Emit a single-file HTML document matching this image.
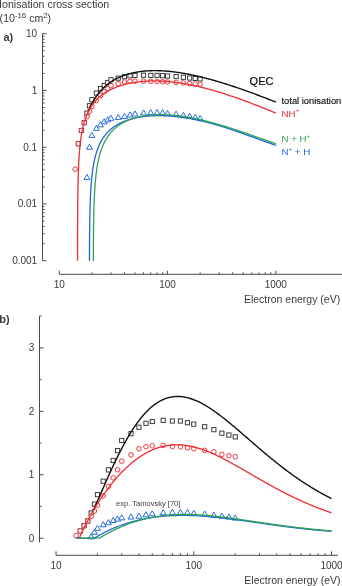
<!DOCTYPE html><html><head><meta charset="utf-8"><style>html,body{margin:0;padding:0;background:#fff;overflow:hidden}svg{display:block;will-change:transform}text{font-family:"Liberation Sans",sans-serif}</style></head><body>
<svg width="342" height="586" viewBox="0 0 342 586">
<rect width="342" height="586" fill="#fff"/>
<text x="-0.9" y="7.6" font-size="10.6" fill="#3a3a3a">Ionisation cross section</text>
<text x="-0.4" y="22.3" font-size="10.6" fill="#3a3a3a">(10<tspan dy="-3.9" font-size="7.8">-16</tspan><tspan dy="3.9"> cm</tspan><tspan dy="-3.9" font-size="7.8">2</tspan><tspan dy="3.9">)</tspan></text>
<text x="3.4" y="40.5" font-size="11" font-weight="bold" fill="#3a3a3a">a)</text>
<text x="-0.8" y="322.6" font-size="11" font-weight="bold" fill="#3a3a3a">b)</text>
<path d="M42.5 33.7V260.6M42.5 260.7h4M42.5 243.62h2M42.5 233.62h2M42.5 226.53h2M42.5 221.03h2M42.5 216.54h2M42.5 212.74h2M42.5 209.45h2M42.5 206.55h2M42.5 203.95h4M42.5 186.87h2M42.5 176.87h2M42.5 169.78h2M42.5 164.28h2M42.5 159.79h2M42.5 155.99h2M42.5 152.7h2M42.5 149.8h2M42.5 147.2h4M42.5 130.12h2M42.5 120.12h2M42.5 113.03h2M42.5 107.53h2M42.5 103.04h2M42.5 99.24h2M42.5 95.95h2M42.5 93.05h2M42.5 90.45h4M42.5 73.37h2M42.5 63.37h2M42.5 56.28h2M42.5 50.78h2M42.5 46.29h2M42.5 42.49h2M42.5 39.2h2M42.5 36.3h2M42.5 33.7h4M59.3 274.3H342M59.3 274.3v-3.5M91.89 274.3v-2M110.95 274.3v-2M124.47 274.3v-2M134.96 274.3v-2M143.53 274.3v-2M150.78 274.3v-2M157.06 274.3v-2M162.6 274.3v-2M167.55 274.3v-3.5M200.14 274.3v-2M219.2 274.3v-2M232.72 274.3v-2M243.21 274.3v-2M251.78 274.3v-2M259.03 274.3v-2M265.31 274.3v-2M270.85 274.3v-2M275.8 274.3v-3.5" fill="none" stroke="#4a4a4a" stroke-width="1"/>
<text x="37.2" y="37.2" font-size="10" text-anchor="end" fill="#3a3a3a">10</text>
<text x="37.2" y="93.95" font-size="10" text-anchor="end" fill="#3a3a3a">1</text>
<text x="37.2" y="150.7" font-size="10" text-anchor="end" fill="#3a3a3a">0.1</text>
<text x="37.2" y="207.45" font-size="10" text-anchor="end" fill="#3a3a3a">0.01</text>
<text x="37.2" y="264.2" font-size="10" text-anchor="end" fill="#3a3a3a">0.001</text>
<text x="59.3" y="287.9" font-size="10" text-anchor="middle" fill="#3a3a3a">10</text>
<text x="167.55" y="287.9" font-size="10" text-anchor="middle" fill="#3a3a3a">100</text>
<text x="275.8" y="287.9" font-size="10" text-anchor="middle" fill="#3a3a3a">1000</text>
<text x="340.2" y="302.9" font-size="10.5" text-anchor="end" fill="#3a3a3a">Electron energy (eV)</text>
<g fill="#fff" stroke="#2a2a2a" stroke-width="0.9"><rect x="76.26" y="141.66" width="4.2" height="4.2"/><rect x="79.3" y="128.39" width="4.2" height="4.2"/><rect x="82.15" y="120.53" width="4.2" height="4.2"/><rect x="84.83" y="111.12" width="4.2" height="4.2"/><rect x="87.38" y="103.67" width="4.2" height="4.2"/><rect x="89.79" y="97.64" width="4.2" height="4.2"/><rect x="94.27" y="90.97" width="4.2" height="4.2"/><rect x="98.36" y="86.52" width="4.2" height="4.2"/><rect x="102.12" y="83.35" width="4.2" height="4.2"/><rect x="105.6" y="80.41" width="4.2" height="4.2"/><rect x="108.85" y="77.71" width="4.2" height="4.2"/><rect x="116.1" y="76.05" width="4.2" height="4.2"/><rect x="122.37" y="74.57" width="4.2" height="4.2"/><rect x="127.91" y="73.71" width="4.2" height="4.2"/><rect x="132.86" y="73.33" width="4.2" height="4.2"/><rect x="141.43" y="73.08" width="4.2" height="4.2"/><rect x="148.68" y="73.23" width="4.2" height="4.2"/><rect x="154.96" y="73.23" width="4.2" height="4.2"/><rect x="160.5" y="73.59" width="4.2" height="4.2"/><rect x="165.45" y="73.89" width="4.2" height="4.2"/><rect x="174.02" y="74.46" width="4.2" height="4.2"/><rect x="181.27" y="75.13" width="4.2" height="4.2"/><rect x="187.55" y="75.93" width="4.2" height="4.2"/><rect x="193.08" y="76.37" width="4.2" height="4.2"/><rect x="198.04" y="76.81" width="4.2" height="4.2"/></g>
<g fill="#fff" stroke="#ec2d33" stroke-width="0.95"><circle cx="75.12" cy="169.17" r="2.3"/><circle cx="78.36" cy="143.76" r="2.3"/><circle cx="81.4" cy="130.49" r="2.3"/><circle cx="84.25" cy="122.63" r="2.3"/><circle cx="86.93" cy="116.68" r="2.3"/><circle cx="89.48" cy="111.31" r="2.3"/><circle cx="91.89" cy="106.57" r="2.3"/><circle cx="96.37" cy="100.43" r="2.3"/><circle cx="100.46" cy="95.49" r="2.3"/><circle cx="104.22" cy="91.66" r="2.3"/><circle cx="107.7" cy="88.6" r="2.3"/><circle cx="110.95" cy="85.65" r="2.3"/><circle cx="118.2" cy="83.74" r="2.3"/><circle cx="124.47" cy="82" r="2.3"/><circle cx="130.01" cy="81.43" r="2.3"/><circle cx="134.96" cy="81.19" r="2.3"/><circle cx="143.53" cy="81.11" r="2.3"/><circle cx="150.78" cy="81.38" r="2.3"/><circle cx="157.06" cy="81.46" r="2.3"/><circle cx="162.6" cy="81.7" r="2.3"/><circle cx="167.55" cy="81.96" r="2.3"/><circle cx="176.12" cy="82.42" r="2.3"/><circle cx="183.37" cy="82.84" r="2.3"/><circle cx="189.65" cy="83.61" r="2.3"/><circle cx="195.18" cy="83.98" r="2.3"/><circle cx="200.14" cy="84.31" r="2.3"/></g>
<g fill="#fff" stroke="#1f66dc" stroke-width="0.95"><path d="M86.93 174.32L89.93 179.42L83.93 179.42z"/><path d="M89.48 144.16L92.48 149.26L86.48 149.26z"/><path d="M91.89 132.31L94.89 137.41L88.89 137.41z"/><path d="M96.37 125.22L99.37 130.32L93.37 130.32z"/><path d="M100.46 121.77L103.46 126.87L97.46 126.87z"/><path d="M104.22 118.67L107.22 123.77L101.22 123.77z"/><path d="M107.7 116.77L110.7 121.87L104.7 121.87z"/><path d="M110.95 115.22L113.95 120.32L107.95 120.32z"/><path d="M118.2 114.34L121.2 119.44L115.2 119.44z"/><path d="M124.47 113.36L127.47 118.46L121.47 118.46z"/><path d="M130.01 111.88L133.01 116.98L127.01 116.98z"/><path d="M134.96 110.92L137.96 116.02L131.96 116.02z"/><path d="M143.53 109.87L146.53 114.97L140.53 114.97z"/><path d="M150.78 109.58L153.78 114.68L147.78 114.68z"/><path d="M157.06 109.58L160.06 114.68L154.06 114.68z"/><path d="M162.6 109.75L165.6 114.85L159.6 114.85z"/><path d="M167.55 110.48L170.55 115.58L164.55 115.58z"/><path d="M176.12 111.11L179.12 116.21L173.12 116.21z"/><path d="M183.37 112.4L186.37 117.5L180.37 117.5z"/><path d="M189.65 113.36L192.65 118.46L186.65 118.46z"/><path d="M195.18 114.34L198.18 119.44L192.18 119.44z"/><path d="M200.14 115.52L203.14 120.62L197.14 120.62z"/></g>
<g fill="none" stroke-width="1.3" stroke-linejoin="round">
<path d="M88.33 111.61 L88.61 110.89 L88.89 110.2 L89.17 109.51 L89.45 108.85 L89.78 108.1 L90.11 107.36 L90.44 106.65 L90.77 105.95 L91.1 105.27 L91.42 104.61 L91.75 103.96 L92.08 103.33 L92.46 102.62 L92.83 101.94 L93.21 101.27 L93.58 100.62 L93.96 99.99 L94.33 99.37 L94.71 98.77 L95.13 98.11 L95.55 97.46 L95.97 96.84 L96.39 96.23 L96.81 95.63 L97.24 95.05 L97.71 94.42 L98.17 93.81 L98.64 93.22 L99.11 92.64 L99.58 92.08 L100.05 91.53 L100.52 91 L101.03 90.42 L101.55 89.87 L102.07 89.32 L102.58 88.8 L103.1 88.28 L103.61 87.78 L104.13 87.3 L104.69 86.78 L105.25 86.28 L105.82 85.79 L106.38 85.32 L106.94 84.86 L107.5 84.41 L108.07 83.97 L108.68 83.51 L109.28 83.06 L109.89 82.63 L110.5 82.21 L111.11 81.8 L111.72 81.4 L112.33 81.02 L112.94 80.64 L113.55 80.28 L114.21 79.9 L114.86 79.53 L115.52 79.17 L116.18 78.82 L116.83 78.48 L117.49 78.16 L118.15 77.84 L118.8 77.53 L119.46 77.23 L120.11 76.95 L120.77 76.67 L121.43 76.4 L122.13 76.11 L122.83 75.84 L123.54 75.58 L124.24 75.33 L124.94 75.08 L125.65 74.85 L126.35 74.62 L127.05 74.4 L127.76 74.19 L128.46 73.98 L129.16 73.79 L129.86 73.6 L130.57 73.42 L131.27 73.24 L131.97 73.07 L132.68 72.91 L133.38 72.76 L134.08 72.61 L134.79 72.47 L135.49 72.33 L136.19 72.2 L136.9 72.08 L137.6 71.96 L138.3 71.85 L139.01 71.74 L139.71 71.64 L140.41 71.54 L141.12 71.45 L141.82 71.37 L142.52 71.29 L143.23 71.21 L143.98 71.14 L144.73 71.07 L145.48 71.01 L146.23 70.95 L146.98 70.9 L147.73 70.85 L148.48 70.81 L149.23 70.77 L149.98 70.74 L150.73 70.71 L151.48 70.68 L152.23 70.67 L152.98 70.65 L153.73 70.64 L154.48 70.64 L155.23 70.64 L155.98 70.64 L156.73 70.65 L157.48 70.66 L158.23 70.68 L158.98 70.7 L159.73 70.73 L160.48 70.75 L161.23 70.79 L161.98 70.82 L162.73 70.86 L163.48 70.91 L164.23 70.96 L164.98 71.01 L165.73 71.06 L166.48 71.12 L167.23 71.18 L167.98 71.25 L168.73 71.32 L169.48 71.39 L170.23 71.47 L170.98 71.54 L171.68 71.62 L172.38 71.7 L173.09 71.78 L173.79 71.87 L174.49 71.96 L175.2 72.05 L175.9 72.14 L176.6 72.24 L177.31 72.34 L178.01 72.44 L178.71 72.54 L179.42 72.65 L180.12 72.75 L180.82 72.87 L181.53 72.98 L182.23 73.1 L182.93 73.21 L183.64 73.33 L184.34 73.46 L185.04 73.58 L185.74 73.71 L186.45 73.84 L187.15 73.97 L187.85 74.1 L188.56 74.24 L189.26 74.38 L189.96 74.52 L190.67 74.66 L191.37 74.81 L192.07 74.95 L192.78 75.1 L193.48 75.25 L194.18 75.41 L194.89 75.56 L195.59 75.72 L196.29 75.87 L197 76.03 L197.7 76.2 L198.4 76.36 L199.11 76.53 L199.81 76.69 L200.51 76.86 L201.22 77.03 L201.92 77.21 L202.62 77.38 L203.32 77.56 L204.03 77.74 L204.73 77.91 L205.43 78.1 L206.14 78.28 L206.84 78.46 L207.54 78.65 L208.25 78.84 L208.95 79.03 L209.65 79.22 L210.36 79.41 L211.06 79.6 L211.76 79.8 L212.47 79.99 L213.17 80.19 L213.87 80.39 L214.58 80.59 L215.28 80.79 L215.98 81 L216.69 81.2 L217.39 81.41 L218.09 81.62 L218.79 81.83 L219.5 82.04 L220.2 82.25 L220.9 82.46 L221.61 82.68 L222.31 82.89 L223.01 83.11 L223.72 83.33 L224.42 83.55 L225.12 83.77 L225.83 83.99 L226.53 84.21 L227.23 84.43 L227.94 84.66 L228.64 84.88 L229.34 85.11 L230.05 85.34 L230.75 85.57 L231.45 85.8 L232.16 86.03 L232.86 86.26 L233.56 86.5 L234.26 86.73 L234.97 86.97 L235.67 87.21 L236.37 87.44 L237.08 87.68 L237.78 87.92 L238.48 88.16 L239.19 88.4 L239.89 88.65 L240.59 88.89 L241.3 89.13 L242 89.38 L242.7 89.63 L243.41 89.87 L244.11 90.12 L244.81 90.37 L245.52 90.62 L246.22 90.87 L246.92 91.12 L247.63 91.37 L248.33 91.63 L249.03 91.88 L249.74 92.14 L250.44 92.39 L251.14 92.65 L251.84 92.9 L252.55 93.16 L253.25 93.42 L253.95 93.68 L254.66 93.94 L255.36 94.2 L256.06 94.46 L256.77 94.72 L257.47 94.99 L258.17 95.25 L258.88 95.52 L259.58 95.78 L260.28 96.05 L260.99 96.31 L261.69 96.58 L262.39 96.85 L263.1 97.12 L263.8 97.38 L264.5 97.65 L265.21 97.92 L265.91 98.19 L266.61 98.47 L267.31 98.74 L268.02 99.01 L268.72 99.28 L269.42 99.56 L270.13 99.83 L270.83 100.11 L271.53 100.38 L272.24 100.66 L272.94 100.94 L273.64 101.21 L274.35 101.49 L275.05 101.77 L275.75 102.05 L275.8 102.07" stroke="#111" stroke-width="1.4"/>
<path d="M77.54 260.7 L77.57 241.11 L77.62 224.16 L77.67 214.22 L77.72 207.16 L77.77 201.69 L77.81 197.22 L77.86 193.44 L77.91 190.16 L77.96 187.28 L78.01 184.7 L78.06 182.37 L78.11 180.24 L78.16 178.28 L78.21 176.47 L78.26 174.79 L78.31 173.21 L78.36 171.73 L78.41 170.34 L78.46 169.02 L78.51 167.77 L78.56 166.58 L78.61 165.45 L78.66 164.37 L78.71 163.33 L78.76 162.34 L78.81 161.39 L78.86 160.48 L78.91 159.59 L78.96 158.74 L79 157.92 L79.05 157.13 L79.1 156.36 L79.15 155.62 L79.2 154.89 L79.3 153.51 L79.4 152.21 L79.5 150.97 L79.6 149.8 L79.7 148.68 L79.8 147.62 L79.9 146.59 L80 145.62 L80.1 144.68 L80.19 143.78 L80.29 142.91 L80.39 142.07 L80.49 141.26 L80.59 140.48 L80.69 139.73 L80.79 139 L80.89 138.29 L81.04 137.27 L81.19 136.29 L81.34 135.35 L81.48 134.45 L81.63 133.59 L81.78 132.75 L81.93 131.95 L82.08 131.17 L82.23 130.43 L82.38 129.7 L82.53 129 L82.72 128.1 L82.92 127.23 L83.12 126.4 L83.32 125.59 L83.52 124.82 L83.72 124.07 L83.91 123.35 L84.11 122.65 L84.36 121.81 L84.61 121 L84.86 120.22 L85.1 119.47 L85.35 118.75 L85.6 118.05 L85.85 117.37 L86.14 116.58 L86.44 115.83 L86.74 115.1 L87.04 114.4 L87.33 113.72 L87.63 113.06 L87.98 112.33 L88.33 111.61 L88.67 110.93 L89.02 110.26 L89.37 109.62 L89.71 109 L90.11 108.32 L90.51 107.66 L90.9 107.02 L91.3 106.41 L91.7 105.81 L92.14 105.16 L92.59 104.54 L93.04 103.94 L93.48 103.35 L93.93 102.79 L94.43 102.18 L94.92 101.6 L95.42 101.03 L95.91 100.49 L96.41 99.96 L96.9 99.44 L97.45 98.9 L97.99 98.37 L98.54 97.86 L99.09 97.37 L99.63 96.89 L100.18 96.42 L100.77 95.93 L101.37 95.46 L101.96 95 L102.56 94.56 L103.15 94.13 L103.75 93.71 L104.34 93.3 L104.94 92.91 L105.58 92.5 L106.23 92.1 L106.87 91.71 L107.51 91.33 L108.16 90.97 L108.8 90.61 L109.45 90.27 L110.09 89.94 L110.74 89.61 L111.38 89.3 L112.03 88.99 L112.67 88.69 L113.37 88.38 L114.06 88.08 L114.75 87.79 L115.45 87.51 L116.14 87.23 L116.84 86.97 L117.53 86.71 L118.22 86.46 L118.92 86.22 L119.61 85.98 L120.31 85.75 L121 85.53 L121.7 85.32 L122.39 85.11 L123.08 84.91 L123.78 84.71 L124.47 84.52 L125.17 84.34 L125.86 84.16 L126.55 83.99 L127.25 83.82 L127.94 83.66 L128.64 83.51 L129.33 83.36 L130.03 83.21 L130.72 83.07 L131.46 82.93 L132.21 82.79 L132.95 82.66 L133.69 82.53 L134.44 82.41 L135.18 82.3 L135.93 82.19 L136.67 82.08 L137.41 81.98 L138.16 81.88 L138.9 81.79 L139.64 81.71 L140.39 81.63 L141.13 81.55 L141.88 81.48 L142.62 81.41 L143.36 81.35 L144.11 81.29 L144.85 81.24 L145.59 81.19 L146.34 81.14 L147.08 81.1 L147.83 81.07 L148.57 81.03 L149.31 81 L150.06 80.98 L150.8 80.96 L151.54 80.94 L152.29 80.93 L153.03 80.92 L153.78 80.92 L154.52 80.92 L155.26 80.92 L156.01 80.93 L156.75 80.94 L157.49 80.96 L158.24 80.97 L158.98 81 L159.73 81.02 L160.47 81.05 L161.21 81.08 L161.96 81.12 L162.7 81.16 L163.44 81.2 L164.19 81.25 L164.93 81.3 L165.68 81.35 L166.42 81.41 L167.16 81.47 L167.91 81.53 L168.65 81.6 L169.39 81.67 L170.14 81.74 L170.88 81.81 L171.63 81.89 L172.37 81.97 L173.11 82.06 L173.86 82.15 L174.6 82.24 L175.34 82.33 L176.09 82.43 L176.83 82.53 L177.58 82.63 L178.32 82.73 L179.06 82.84 L179.81 82.95 L180.55 83.07 L181.29 83.18 L182.04 83.3 L182.78 83.42 L183.53 83.55 L184.27 83.68 L185.01 83.8 L185.76 83.94 L186.5 84.07 L187.24 84.21 L187.99 84.35 L188.73 84.49 L189.43 84.63 L190.12 84.76 L190.81 84.9 L191.51 85.05 L192.2 85.19 L192.9 85.33 L193.59 85.48 L194.29 85.63 L194.98 85.78 L195.67 85.94 L196.37 86.09 L197.06 86.25 L197.76 86.41 L198.45 86.57 L199.14 86.74 L199.84 86.9 L200.53 87.07 L201.23 87.24 L201.92 87.41 L202.62 87.58 L203.31 87.75 L204 87.93 L204.7 88.11 L205.39 88.29 L206.09 88.47 L206.78 88.65 L207.47 88.84 L208.17 89.02 L208.86 89.21 L209.56 89.4 L210.25 89.59 L210.95 89.79 L211.64 89.98 L212.33 90.18 L213.03 90.37 L213.72 90.57 L214.42 90.77 L215.11 90.98 L215.8 91.18 L216.5 91.39 L217.19 91.59 L217.89 91.8 L218.58 92.01 L219.28 92.22 L219.97 92.43 L220.66 92.65 L221.36 92.86 L222.05 93.08 L222.75 93.3 L223.44 93.52 L224.13 93.74 L224.83 93.96 L225.52 94.18 L226.22 94.41 L226.91 94.63 L227.61 94.86 L228.3 95.09 L228.99 95.32 L229.69 95.55 L230.38 95.78 L231.08 96.01 L231.77 96.25 L232.46 96.48 L233.16 96.72 L233.85 96.96 L234.55 97.2 L235.24 97.44 L235.94 97.68 L236.63 97.92 L237.32 98.16 L238.02 98.41 L238.71 98.65 L239.41 98.9 L240.1 99.15 L240.79 99.39 L241.49 99.64 L242.18 99.89 L242.88 100.15 L243.57 100.4 L244.27 100.65 L244.96 100.91 L245.65 101.16 L246.35 101.42 L247.04 101.68 L247.74 101.93 L248.43 102.19 L249.12 102.45 L249.82 102.71 L250.51 102.97 L251.21 103.24 L251.9 103.5 L252.6 103.77 L253.29 104.03 L253.98 104.3 L254.68 104.56 L255.37 104.83 L256.07 105.1 L256.76 105.37 L257.45 105.64 L258.15 105.91 L258.84 106.18 L259.54 106.45 L260.23 106.73 L260.93 107 L261.62 107.27 L262.31 107.55 L263.01 107.83 L263.7 108.1 L264.4 108.38 L265.09 108.66 L265.78 108.94 L266.48 109.22 L267.17 109.5 L267.87 109.78 L268.56 110.06 L269.26 110.34 L269.95 110.62 L270.64 110.91 L271.34 111.19 L272.03 111.48 L272.73 111.76 L273.42 112.05 L274.11 112.33 L274.81 112.62 L275.5 112.91 L275.8 113.03" stroke="#ec2d33"/>
<path d="M89.46 260.7 L89.47 257.18 L89.51 247.24 L89.56 240.18 L89.61 234.71 L89.65 230.23 L89.7 226.45 L89.75 223.18 L89.79 220.29 L89.84 217.71 L89.89 215.37 L89.93 213.24 L89.98 211.28 L90.03 209.47 L90.07 207.78 L90.12 206.21 L90.17 204.73 L90.21 203.33 L90.26 202.01 L90.31 200.76 L90.35 199.57 L90.4 198.44 L90.45 197.35 L90.49 196.32 L90.54 195.32 L90.59 194.37 L90.63 193.45 L90.68 192.57 L90.73 191.72 L90.77 190.89 L90.82 190.1 L90.87 189.33 L90.91 188.58 L90.96 187.86 L91.05 186.48 L91.15 185.17 L91.24 183.93 L91.33 182.75 L91.43 181.63 L91.52 180.56 L91.61 179.54 L91.71 178.56 L91.8 177.61 L91.89 176.71 L91.99 175.84 L92.08 175 L92.17 174.19 L92.27 173.41 L92.36 172.65 L92.45 171.91 L92.54 171.2 L92.68 170.18 L92.82 169.2 L92.96 168.25 L93.1 167.35 L93.24 166.48 L93.38 165.64 L93.52 164.84 L93.66 164.06 L93.8 163.31 L93.94 162.58 L94.08 161.87 L94.27 160.97 L94.46 160.1 L94.64 159.26 L94.83 158.45 L95.02 157.68 L95.2 156.93 L95.39 156.2 L95.58 155.5 L95.81 154.65 L96.04 153.84 L96.27 153.06 L96.51 152.31 L96.74 151.58 L96.97 150.87 L97.21 150.19 L97.49 149.41 L97.77 148.65 L98.05 147.92 L98.33 147.22 L98.61 146.54 L98.88 145.88 L99.21 145.14 L99.54 144.43 L99.86 143.74 L100.19 143.08 L100.52 142.44 L100.89 141.73 L101.26 141.05 L101.64 140.4 L102.01 139.77 L102.38 139.16 L102.8 138.49 L103.22 137.86 L103.64 137.24 L104.06 136.65 L104.48 136.07 L104.95 135.46 L105.41 134.87 L105.88 134.3 L106.34 133.75 L106.81 133.21 L107.32 132.65 L107.84 132.1 L108.35 131.58 L108.86 131.07 L109.37 130.58 L109.93 130.07 L110.49 129.57 L111.05 129.09 L111.61 128.63 L112.17 128.18 L112.78 127.71 L113.38 127.26 L113.99 126.83 L114.6 126.41 L115.2 126 L115.81 125.61 L116.41 125.24 L117.02 124.87 L117.67 124.49 L118.32 124.13 L118.98 123.77 L119.63 123.43 L120.28 123.1 L120.94 122.79 L121.59 122.48 L122.24 122.19 L122.89 121.9 L123.55 121.62 L124.25 121.34 L124.94 121.06 L125.64 120.8 L126.34 120.54 L127.04 120.3 L127.74 120.06 L128.44 119.83 L129.14 119.61 L129.84 119.4 L130.54 119.19 L131.24 119 L131.94 118.81 L132.64 118.63 L133.34 118.45 L134.03 118.28 L134.73 118.12 L135.43 117.97 L136.13 117.82 L136.83 117.68 L137.53 117.54 L138.23 117.41 L138.93 117.28 L139.63 117.16 L140.33 117.05 L141.03 116.94 L141.77 116.83 L142.52 116.72 L143.27 116.62 L144.01 116.53 L144.76 116.44 L145.5 116.36 L146.25 116.28 L146.99 116.21 L147.74 116.14 L148.49 116.08 L149.23 116.02 L149.98 115.97 L150.72 115.92 L151.47 115.88 L152.22 115.84 L152.96 115.8 L153.71 115.77 L154.45 115.74 L155.2 115.72 L155.95 115.7 L156.69 115.69 L157.44 115.68 L158.18 115.67 L158.93 115.67 L159.67 115.68 L160.42 115.68 L161.17 115.69 L161.91 115.7 L162.66 115.72 L163.4 115.74 L164.15 115.77 L164.9 115.79 L165.64 115.83 L166.39 115.86 L167.13 115.9 L167.88 115.94 L168.63 115.99 L169.37 116.04 L170.12 116.09 L170.86 116.14 L171.61 116.2 L172.35 116.26 L173.1 116.33 L173.85 116.4 L174.59 116.47 L175.34 116.54 L176.08 116.62 L176.83 116.7 L177.58 116.79 L178.32 116.87 L179.07 116.96 L179.81 117.06 L180.56 117.15 L181.31 117.25 L182.05 117.35 L182.8 117.46 L183.54 117.56 L184.29 117.68 L184.99 117.78 L185.69 117.89 L186.39 118 L187.09 118.11 L187.79 118.23 L188.48 118.35 L189.18 118.47 L189.88 118.59 L190.58 118.72 L191.28 118.84 L191.98 118.97 L192.68 119.11 L193.38 119.24 L194.08 119.38 L194.78 119.52 L195.48 119.66 L196.18 119.8 L196.88 119.95 L197.58 120.09 L198.27 120.24 L198.97 120.4 L199.67 120.55 L200.37 120.71 L201.07 120.86 L201.77 121.03 L202.47 121.19 L203.17 121.35 L203.87 121.52 L204.57 121.69 L205.27 121.86 L205.97 122.03 L206.67 122.21 L207.36 122.38 L208.06 122.56 L208.76 122.74 L209.46 122.93 L210.16 123.11 L210.86 123.3 L211.56 123.48 L212.26 123.67 L212.96 123.87 L213.66 124.06 L214.36 124.26 L215.06 124.45 L215.76 124.65 L216.46 124.85 L217.15 125.05 L217.85 125.26 L218.55 125.46 L219.25 125.67 L219.95 125.88 L220.65 126.09 L221.35 126.3 L222.05 126.52 L222.75 126.73 L223.45 126.95 L224.15 127.17 L224.85 127.39 L225.55 127.61 L226.25 127.83 L226.94 128.06 L227.64 128.28 L228.34 128.51 L229.04 128.74 L229.74 128.96 L230.44 129.19 L231.14 129.43 L231.84 129.66 L232.54 129.89 L233.24 130.13 L233.94 130.37 L234.64 130.6 L235.34 130.84 L236.03 131.08 L236.73 131.32 L237.43 131.56 L238.13 131.81 L238.83 132.05 L239.53 132.29 L240.23 132.54 L240.93 132.79 L241.63 133.03 L242.33 133.28 L243.03 133.53 L243.73 133.78 L244.43 134.03 L245.13 134.28 L245.82 134.53 L246.52 134.78 L247.22 135.03 L247.92 135.28 L248.62 135.53 L249.32 135.79 L250.02 136.04 L250.72 136.29 L251.42 136.55 L252.12 136.8 L252.82 137.06 L253.52 137.31 L254.22 137.57 L254.92 137.82 L255.61 138.08 L256.31 138.33 L257.01 138.59 L257.71 138.84 L258.41 139.09 L259.11 139.35 L259.81 139.6 L260.51 139.86 L261.21 140.11 L261.91 140.36 L262.61 140.62 L263.31 140.87 L264.01 141.12 L264.7 141.37 L265.4 141.63 L266.1 141.88 L266.8 142.13 L267.5 142.38 L268.2 142.62 L268.9 142.87 L269.6 143.12 L270.3 143.37 L271 143.61 L271.7 143.86 L272.4 144.1 L273.1 144.34 L273.8 144.58 L274.49 144.83 L275.19 145.07 L275.8 145.27" stroke="#1f66dc"/>
<path d="M93.31 260.7 L93.32 258.62 L93.37 248.67 L93.41 241.61 L93.46 236.13 L93.5 231.65 L93.55 227.86 L93.59 224.58 L93.64 221.69 L93.69 219.1 L93.73 216.76 L93.78 214.63 L93.82 212.66 L93.87 210.84 L93.91 209.15 L93.96 207.57 L94.01 206.08 L94.05 204.68 L94.1 203.36 L94.14 202.1 L94.19 200.91 L94.23 199.77 L94.28 198.68 L94.33 197.64 L94.37 196.64 L94.42 195.68 L94.46 194.76 L94.51 193.87 L94.55 193.01 L94.6 192.18 L94.64 191.38 L94.69 190.6 L94.74 189.85 L94.78 189.12 L94.83 188.42 L94.92 187.06 L95.01 185.78 L95.1 184.56 L95.19 183.4 L95.28 182.3 L95.38 181.24 L95.47 180.23 L95.56 179.26 L95.65 178.32 L95.74 177.43 L95.83 176.56 L95.92 175.72 L96.01 174.92 L96.11 174.14 L96.2 173.38 L96.29 172.65 L96.38 171.94 L96.52 170.92 L96.65 169.93 L96.79 168.99 L96.93 168.08 L97.06 167.21 L97.2 166.37 L97.34 165.56 L97.48 164.77 L97.61 164.01 L97.75 163.28 L97.89 162.57 L98.07 161.65 L98.25 160.77 L98.43 159.93 L98.62 159.11 L98.8 158.32 L98.98 157.56 L99.16 156.82 L99.35 156.11 L99.53 155.42 L99.76 154.58 L99.99 153.78 L100.21 153.01 L100.44 152.26 L100.67 151.53 L100.9 150.83 L101.13 150.15 L101.4 149.37 L101.68 148.61 L101.95 147.88 L102.22 147.17 L102.5 146.49 L102.77 145.83 L103.09 145.08 L103.41 144.36 L103.73 143.66 L104.05 142.99 L104.37 142.34 L104.73 141.63 L105.1 140.93 L105.46 140.27 L105.83 139.62 L106.2 139 L106.61 138.32 L107.02 137.67 L107.43 137.04 L107.84 136.43 L108.25 135.84 L108.71 135.2 L109.16 134.59 L109.62 134 L110.08 133.44 L110.53 132.88 L111.03 132.3 L111.54 131.74 L112.04 131.19 L112.54 130.66 L113.04 130.16 L113.59 129.62 L114.14 129.1 L114.69 128.6 L115.23 128.12 L115.78 127.65 L116.33 127.2 L116.92 126.73 L117.52 126.28 L118.11 125.84 L118.7 125.41 L119.3 125 L119.89 124.61 L120.53 124.19 L121.17 123.8 L121.81 123.41 L122.45 123.04 L123.09 122.69 L123.73 122.34 L124.37 122.01 L125 121.69 L125.64 121.38 L126.33 121.06 L127.01 120.75 L127.7 120.45 L128.38 120.16 L129.07 119.89 L129.75 119.62 L130.44 119.36 L131.12 119.12 L131.81 118.88 L132.49 118.65 L133.18 118.43 L133.86 118.22 L134.55 118.01 L135.23 117.82 L135.92 117.63 L136.6 117.45 L137.33 117.26 L138.06 117.09 L138.79 116.92 L139.52 116.76 L140.25 116.6 L140.98 116.46 L141.71 116.32 L142.44 116.18 L143.18 116.06 L143.91 115.94 L144.64 115.82 L145.37 115.72 L146.1 115.61 L146.83 115.52 L147.56 115.43 L148.29 115.35 L149.02 115.27 L149.75 115.19 L150.48 115.13 L151.21 115.07 L151.94 115.01 L152.67 114.96 L153.4 114.91 L154.13 114.87 L154.86 114.83 L155.59 114.8 L156.32 114.77 L157.05 114.75 L157.78 114.73 L158.51 114.72 L159.25 114.71 L159.98 114.7 L160.71 114.7 L161.44 114.7 L162.17 114.71 L162.9 114.72 L163.63 114.74 L164.36 114.76 L165.09 114.78 L165.82 114.81 L166.55 114.84 L167.28 114.87 L168.01 114.91 L168.74 114.95 L169.47 115 L170.2 115.05 L170.93 115.1 L171.66 115.16 L172.39 115.22 L173.12 115.28 L173.85 115.34 L174.59 115.41 L175.32 115.49 L176.05 115.56 L176.78 115.64 L177.51 115.72 L178.24 115.81 L178.97 115.9 L179.7 115.99 L180.43 116.09 L181.16 116.18 L181.89 116.28 L182.62 116.39 L183.35 116.49 L184.08 116.6 L184.81 116.72 L185.54 116.83 L186.27 116.95 L187 117.07 L187.73 117.19 L188.46 117.32 L189.19 117.45 L189.92 117.58 L190.66 117.71 L191.39 117.85 L192.12 117.99 L192.85 118.13 L193.58 118.27 L194.31 118.42 L195.04 118.56 L195.77 118.72 L196.5 118.87 L197.23 119.02 L197.96 119.18 L198.69 119.34 L199.42 119.5 L200.15 119.67 L200.88 119.84 L201.61 120 L202.34 120.18 L203.07 120.35 L203.8 120.52 L204.53 120.7 L205.26 120.88 L206 121.06 L206.73 121.24 L207.46 121.43 L208.19 121.62 L208.87 121.79 L209.56 121.97 L210.24 122.15 L210.93 122.33 L211.61 122.52 L212.3 122.7 L212.98 122.89 L213.66 123.08 L214.35 123.27 L215.03 123.46 L215.72 123.65 L216.4 123.84 L217.09 124.04 L217.77 124.24 L218.46 124.43 L219.14 124.63 L219.83 124.83 L220.51 125.04 L221.2 125.24 L221.88 125.44 L222.57 125.65 L223.25 125.85 L223.94 126.06 L224.62 126.27 L225.31 126.48 L225.99 126.69 L226.68 126.91 L227.36 127.12 L228.05 127.33 L228.73 127.55 L229.42 127.77 L230.1 127.98 L230.79 128.2 L231.47 128.42 L232.15 128.64 L232.84 128.86 L233.52 129.09 L234.21 129.31 L234.89 129.53 L235.58 129.76 L236.26 129.98 L236.95 130.21 L237.63 130.44 L238.32 130.67 L239 130.89 L239.69 131.12 L240.37 131.35 L241.06 131.58 L241.74 131.82 L242.43 132.05 L243.11 132.28 L243.8 132.51 L244.48 132.75 L245.17 132.98 L245.85 133.22 L246.54 133.45 L247.22 133.69 L247.91 133.93 L248.59 134.16 L249.28 134.4 L249.96 134.64 L250.64 134.88 L251.33 135.12 L252.01 135.35 L252.7 135.59 L253.38 135.83 L254.07 136.07 L254.75 136.31 L255.44 136.56 L256.12 136.8 L256.81 137.04 L257.49 137.28 L258.18 137.52 L258.86 137.76 L259.55 138.01 L260.23 138.25 L260.92 138.49 L261.6 138.74 L262.29 138.98 L262.97 139.22 L263.66 139.47 L264.34 139.71 L265.03 139.95 L265.71 140.2 L266.4 140.44 L267.08 140.69 L267.76 140.93 L268.45 141.17 L269.13 141.42 L269.82 141.66 L270.5 141.91 L271.19 142.15 L271.87 142.39 L272.56 142.64 L273.24 142.88 L273.93 143.13 L274.61 143.37 L275.3 143.62 L275.8 143.79" stroke="#2ea356"/>
</g>
<text x="249.6" y="84.7" font-size="11" fill="#111" stroke="#000" stroke-width="0.22">QEC</text>
<text x="281.5" y="103.6" font-size="9.7" fill="#111" textLength="59.8" lengthAdjust="spacingAndGlyphs" stroke="#000" stroke-width="0.15">total ionisation</text>
<text x="281.5" y="116.7" font-size="9.8" fill="#ec2d33">NH<tspan dy="-4.3" font-size="6.2">+</tspan></text>
<text x="281.5" y="142.1" font-size="9.7" fill="#2ea356">N + H<tspan dy="-4.3" font-size="6.2">+</tspan></text>
<text x="281.5" y="155.2" font-size="9.7" fill="#1f66dc">N<tspan dy="-4.3" font-size="6.2">+</tspan><tspan dy="4.3"> + H</tspan></text>
<path d="M39.5 315.9V542.4M39.5 538.2h4M39.5 506.48h2M39.5 474.75h4M39.5 443.03h2M39.5 411.3h4M39.5 379.58h2M39.5 347.85h4M39.5 316.12h2M56 555.3H338M56 555.3v-4M97.47 555.3v-2M121.72 555.3v-2M138.93 555.3v-2M152.28 555.3v-2M163.19 555.3v-2M172.41 555.3v-2M180.4 555.3v-2M187.45 555.3v-2M193.75 555.3v-4M235.22 555.3v-2M259.47 555.3v-2M276.68 555.3v-2M290.03 555.3v-2M300.94 555.3v-2M310.16 555.3v-2M318.15 555.3v-2M325.2 555.3v-2M331.5 555.3v-4" fill="none" stroke="#4a4a4a" stroke-width="1"/>
<text x="34.4" y="541.7" font-size="10" text-anchor="end" fill="#3a3a3a">0</text>
<text x="34.4" y="478.25" font-size="10" text-anchor="end" fill="#3a3a3a">1</text>
<text x="34.4" y="414.8" font-size="10" text-anchor="end" fill="#3a3a3a">2</text>
<text x="34.4" y="351.35" font-size="10" text-anchor="end" fill="#3a3a3a">3</text>
<text x="56" y="568.5" font-size="10" text-anchor="middle" fill="#3a3a3a">10</text>
<text x="193.75" y="568.5" font-size="10" text-anchor="middle" fill="#3a3a3a">100</text>
<text x="331.5" y="568.5" font-size="10" text-anchor="middle" fill="#3a3a3a">1000</text>
<text x="340.6" y="583.8" font-size="10.5" text-anchor="end" fill="#3a3a3a">Electron energy (eV)</text>
<text x="116.1" y="506.4" font-size="7.7" fill="#3a3a3a" textLength="64.3" lengthAdjust="spacingAndGlyphs">exp. Tamovsky [70]</text>
<g fill="#fff" stroke="#2a2a2a" stroke-width="0.9"><rect x="78.16" y="528.8" width="4.2" height="4.2"/><rect x="82.02" y="523.6" width="4.2" height="4.2"/><rect x="85.64" y="518.91" width="4.2" height="4.2"/><rect x="89.06" y="510.91" width="4.2" height="4.2"/><rect x="92.3" y="502.03" width="4.2" height="4.2"/><rect x="95.37" y="492.57" width="4.2" height="4.2"/><rect x="101.07" y="479.06" width="4.2" height="4.2"/><rect x="106.27" y="467.76" width="4.2" height="4.2"/><rect x="111.06" y="458.37" width="4.2" height="4.2"/><rect x="115.5" y="448.54" width="4.2" height="4.2"/><rect x="119.62" y="438.39" width="4.2" height="4.2"/><rect x="128.85" y="431.6" width="4.2" height="4.2"/><rect x="136.83" y="425.13" width="4.2" height="4.2"/><rect x="143.88" y="421.19" width="4.2" height="4.2"/><rect x="150.18" y="419.42" width="4.2" height="4.2"/><rect x="161.09" y="418.21" width="4.2" height="4.2"/><rect x="170.31" y="418.91" width="4.2" height="4.2"/><rect x="178.3" y="418.91" width="4.2" height="4.2"/><rect x="185.35" y="420.62" width="4.2" height="4.2"/><rect x="191.65" y="422.02" width="4.2" height="4.2"/><rect x="202.56" y="424.62" width="4.2" height="4.2"/><rect x="211.78" y="427.6" width="4.2" height="4.2"/><rect x="219.77" y="431.09" width="4.2" height="4.2"/><rect x="226.81" y="432.93" width="4.2" height="4.2"/><rect x="233.12" y="434.77" width="4.2" height="4.2"/></g>
<g fill="#fff" stroke="#ec2d33" stroke-width="0.95"><circle cx="76.13" cy="535.6" r="2.3"/><circle cx="80.26" cy="530.9" r="2.3"/><circle cx="84.12" cy="525.7" r="2.3"/><circle cx="87.74" cy="521.01" r="2.3"/><circle cx="91.16" cy="516.31" r="2.3"/><circle cx="94.4" cy="510.98" r="2.3"/><circle cx="97.47" cy="505.21" r="2.3"/><circle cx="103.17" cy="495.88" r="2.3"/><circle cx="108.37" cy="486.49" r="2.3"/><circle cx="113.16" cy="477.8" r="2.3"/><circle cx="117.6" cy="469.8" r="2.3"/><circle cx="121.72" cy="461.11" r="2.3"/><circle cx="130.95" cy="454.89" r="2.3"/><circle cx="138.93" cy="448.8" r="2.3"/><circle cx="145.98" cy="446.71" r="2.3"/><circle cx="152.28" cy="445.82" r="2.3"/><circle cx="163.19" cy="445.5" r="2.3"/><circle cx="172.41" cy="446.51" r="2.3"/><circle cx="180.4" cy="446.83" r="2.3"/><circle cx="187.45" cy="447.72" r="2.3"/><circle cx="193.75" cy="448.67" r="2.3"/><circle cx="204.66" cy="450.32" r="2.3"/><circle cx="213.88" cy="451.78" r="2.3"/><circle cx="221.87" cy="454.45" r="2.3"/><circle cx="228.91" cy="455.72" r="2.3"/><circle cx="235.22" cy="456.79" r="2.3"/></g>
<g fill="#fff" stroke="#1f66dc" stroke-width="0.95"><path d="M91.16 533.75L94.16 538.85L88.16 538.85z"/><path d="M94.4 529.18L97.4 534.28L91.4 534.28z"/><path d="M97.47 525.18L100.47 530.28L94.47 530.28z"/><path d="M103.17 521.69L106.17 526.79L100.17 526.79z"/><path d="M108.37 519.6L111.37 524.7L105.37 524.7z"/><path d="M113.16 517.44L116.16 522.54L110.16 522.54z"/><path d="M117.6 515.98L120.6 521.08L114.6 521.08z"/><path d="M121.72 514.71L124.72 519.81L118.72 519.81z"/><path d="M130.95 513.95L133.95 519.05L127.95 519.05z"/><path d="M138.93 513.06L141.93 518.16L135.93 518.16z"/><path d="M145.98 511.67L148.98 516.77L142.98 516.77z"/><path d="M152.28 510.71L155.28 515.81L149.28 515.81z"/><path d="M163.19 509.64L166.19 514.74L160.19 514.74z"/><path d="M172.41 509.32L175.41 514.42L169.41 514.42z"/><path d="M180.4 509.32L183.4 514.42L177.4 514.42z"/><path d="M187.45 509.51L190.45 514.61L184.45 514.61z"/><path d="M193.75 510.27L196.75 515.37L190.75 515.37z"/><path d="M204.66 510.9L207.66 516L201.66 516z"/><path d="M213.88 512.17L216.88 517.27L210.88 517.27z"/><path d="M221.87 513.06L224.87 518.16L218.87 518.16z"/><path d="M228.91 513.95L231.91 519.05L225.91 519.05z"/><path d="M235.22 514.97L238.22 520.07L232.22 520.07z"/></g>
<g fill="none" stroke-width="1.3" stroke-linejoin="round">
<path d="M92.94 511.31 L93.26 510.61 L93.58 509.9 L93.89 509.19 L94.21 508.48 L94.53 507.77 L94.85 507.06 L95.17 506.34 L95.49 505.63 L95.8 504.91 L96.12 504.19 L96.44 503.47 L96.76 502.74 L97.08 502.02 L97.39 501.3 L97.71 500.57 L98.03 499.85 L98.35 499.12 L98.67 498.39 L98.99 497.66 L99.3 496.93 L99.62 496.21 L99.94 495.48 L100.26 494.75 L100.58 494.02 L100.89 493.29 L101.21 492.56 L101.53 491.83 L101.85 491.1 L102.17 490.37 L102.49 489.64 L102.8 488.92 L103.12 488.19 L103.44 487.46 L103.76 486.73 L104.08 486.01 L104.4 485.28 L104.71 484.56 L105.03 483.84 L105.35 483.12 L105.67 482.39 L105.99 481.67 L106.3 480.95 L106.62 480.24 L106.94 479.52 L107.26 478.81 L107.58 478.09 L107.9 477.38 L108.21 476.67 L108.53 475.96 L108.85 475.25 L109.17 474.55 L109.49 473.84 L109.8 473.14 L110.12 472.44 L110.44 471.74 L110.76 471.04 L111.08 470.35 L111.4 469.65 L111.71 468.96 L112.03 468.27 L112.35 467.59 L112.67 466.9 L112.99 466.22 L113.3 465.54 L113.62 464.86 L113.94 464.18 L114.26 463.51 L114.58 462.84 L114.9 462.17 L115.21 461.51 L115.53 460.84 L115.85 460.18 L116.17 459.52 L116.49 458.87 L116.8 458.21 L117.12 457.56 L117.44 456.91 L117.76 456.27 L118.08 455.63 L118.4 454.99 L118.71 454.35 L119.03 453.72 L119.43 452.93 L119.83 452.15 L120.22 451.37 L120.62 450.59 L121.02 449.82 L121.42 449.06 L121.82 448.3 L122.21 447.54 L122.61 446.79 L123.01 446.05 L123.41 445.31 L123.8 444.57 L124.2 443.84 L124.6 443.11 L125 442.39 L125.4 441.68 L125.79 440.97 L126.19 440.26 L126.59 439.56 L126.99 438.87 L127.38 438.18 L127.78 437.5 L128.18 436.82 L128.58 436.15 L128.97 435.48 L129.37 434.82 L129.77 434.16 L130.17 433.51 L130.57 432.87 L130.96 432.23 L131.36 431.59 L131.76 430.97 L132.16 430.34 L132.55 429.73 L132.95 429.12 L133.35 428.51 L133.75 427.91 L134.15 427.32 L134.54 426.73 L135.02 426.03 L135.5 425.34 L135.97 424.66 L136.45 423.98 L136.93 423.32 L137.41 422.66 L137.88 422.01 L138.36 421.37 L138.84 420.74 L139.32 420.12 L139.79 419.5 L140.27 418.89 L140.75 418.29 L141.22 417.71 L141.7 417.12 L142.18 416.55 L142.66 415.99 L143.13 415.43 L143.61 414.88 L144.09 414.34 L144.57 413.81 L145.04 413.29 L145.6 412.69 L146.16 412.1 L146.71 411.53 L147.27 410.96 L147.83 410.41 L148.38 409.87 L148.94 409.34 L149.5 408.82 L150.05 408.31 L150.61 407.82 L151.17 407.33 L151.73 406.86 L152.28 406.39 L152.84 405.94 L153.4 405.5 L154.03 405.01 L154.67 404.54 L155.3 404.08 L155.94 403.63 L156.58 403.2 L157.21 402.78 L157.85 402.38 L158.49 401.99 L159.12 401.61 L159.76 401.25 L160.4 400.9 L161.03 400.57 L161.67 400.25 L162.38 399.91 L163.1 399.58 L163.82 399.27 L164.53 398.98 L165.25 398.7 L165.96 398.44 L166.68 398.2 L167.4 397.97 L168.11 397.76 L168.83 397.57 L169.54 397.39 L170.26 397.23 L170.98 397.08 L171.69 396.95 L172.41 396.84 L173.12 396.74 L173.84 396.65 L174.55 396.58 L175.27 396.52 L175.99 396.48 L176.7 396.46 L177.42 396.45 L178.13 396.45 L178.85 396.46 L179.57 396.49 L180.28 396.54 L181 396.6 L181.71 396.67 L182.43 396.75 L183.15 396.85 L183.86 396.96 L184.58 397.08 L185.29 397.21 L186.01 397.36 L186.73 397.52 L187.44 397.69 L188.16 397.88 L188.87 398.07 L189.59 398.28 L190.31 398.5 L191.02 398.73 L191.74 398.97 L192.45 399.22 L193.17 399.48 L193.88 399.75 L194.6 400.03 L195.32 400.33 L196.03 400.63 L196.75 400.94 L197.46 401.26 L198.18 401.59 L198.9 401.93 L199.53 402.24 L200.17 402.56 L200.81 402.89 L201.44 403.22 L202.08 403.55 L202.71 403.9 L203.35 404.25 L203.99 404.61 L204.62 404.97 L205.26 405.34 L205.9 405.72 L206.53 406.1 L207.17 406.49 L207.81 406.88 L208.44 407.28 L209.08 407.68 L209.71 408.09 L210.35 408.51 L210.99 408.93 L211.62 409.35 L212.26 409.78 L212.9 410.21 L213.53 410.65 L214.17 411.1 L214.81 411.55 L215.44 412 L216.08 412.46 L216.71 412.92 L217.35 413.38 L217.99 413.85 L218.62 414.32 L219.26 414.8 L219.9 415.28 L220.53 415.76 L221.17 416.25 L221.81 416.74 L222.44 417.23 L223.08 417.73 L223.64 418.17 L224.19 418.61 L224.75 419.05 L225.31 419.49 L225.86 419.94 L226.42 420.38 L226.98 420.83 L227.53 421.29 L228.09 421.74 L228.65 422.19 L229.2 422.65 L229.76 423.11 L230.32 423.57 L230.87 424.03 L231.43 424.49 L231.99 424.96 L232.54 425.42 L233.1 425.89 L233.66 426.36 L234.21 426.83 L234.77 427.3 L235.33 427.77 L235.89 428.24 L236.44 428.72 L237 429.19 L237.56 429.67 L238.11 430.15 L238.67 430.62 L239.23 431.1 L239.78 431.58 L240.34 432.06 L240.9 432.54 L241.45 433.02 L242.01 433.5 L242.57 433.98 L243.12 434.46 L243.68 434.95 L244.24 435.43 L244.79 435.91 L245.35 436.4 L245.91 436.88 L246.46 437.36 L247.02 437.85 L247.58 438.33 L248.14 438.81 L248.69 439.3 L249.25 439.78 L249.81 440.26 L250.36 440.75 L250.92 441.23 L251.48 441.71 L252.03 442.2 L252.59 442.68 L253.15 443.16 L253.7 443.64 L254.26 444.13 L254.82 444.61 L255.37 445.09 L255.93 445.57 L256.49 446.05 L257.04 446.53 L257.6 447 L258.16 447.48 L258.72 447.96 L259.27 448.44 L259.83 448.91 L260.39 449.39 L260.94 449.86 L261.5 450.34 L262.06 450.81 L262.61 451.28 L263.17 451.75 L263.73 452.22 L264.28 452.69 L264.84 453.16 L265.4 453.63 L265.95 454.1 L266.51 454.56 L267.07 455.03 L267.62 455.49 L268.18 455.95 L268.74 456.41 L269.29 456.87 L269.85 457.33 L270.41 457.79 L270.97 458.25 L271.52 458.7 L272.08 459.16 L272.64 459.61 L273.19 460.06 L273.75 460.51 L274.31 460.96 L274.86 461.41 L275.42 461.86 L275.98 462.3 L276.53 462.75 L277.09 463.19 L277.65 463.63 L278.2 464.07 L278.76 464.51 L279.32 464.95 L279.95 465.45 L280.59 465.94 L281.23 466.44 L281.86 466.93 L282.5 467.42 L283.14 467.91 L283.77 468.39 L284.41 468.88 L285.04 469.36 L285.68 469.84 L286.32 470.32 L286.95 470.79 L287.59 471.27 L288.23 471.74 L288.86 472.21 L289.5 472.68 L290.14 473.14 L290.77 473.61 L291.41 474.07 L292.04 474.53 L292.68 474.98 L293.32 475.44 L293.95 475.89 L294.59 476.34 L295.23 476.79 L295.86 477.24 L296.5 477.68 L297.14 478.12 L297.77 478.56 L298.41 479 L299.05 479.43 L299.68 479.86 L300.32 480.29 L300.95 480.72 L301.59 481.15 L302.23 481.57 L302.86 481.99 L303.5 482.41 L304.14 482.83 L304.77 483.24 L305.41 483.65 L306.05 484.06 L306.68 484.47 L307.32 484.88 L307.95 485.28 L308.59 485.68 L309.23 486.08 L309.86 486.47 L310.5 486.87 L311.14 487.26 L311.77 487.65 L312.41 488.04 L313.05 488.42 L313.68 488.8 L314.32 489.18 L314.95 489.56 L315.59 489.94 L316.23 490.31 L316.86 490.68 L317.5 491.05 L318.14 491.42 L318.77 491.78 L319.41 492.14 L320.05 492.5 L320.68 492.86 L321.32 493.21 L321.95 493.57 L322.59 493.92 L323.23 494.27 L323.86 494.61 L324.5 494.96 L325.14 495.3 L325.77 495.64 L326.41 495.98 L327.05 496.31 L327.68 496.64 L328.32 496.97 L328.95 497.3 L329.59 497.63 L330.23 497.95 L330.86 498.28 L331.5 498.6" stroke="#111" stroke-width="1.4"/>
<path d="M76.13 538.2 L76.9 538.2 L77.66 538.2 L78.43 538.2 L79.19 538.17 L79.54 537.42 L79.88 536.68 L80.22 535.94 L80.56 535.2 L80.9 534.47 L81.24 533.74 L81.58 533.02 L81.92 532.31 L82.26 531.59 L82.6 530.88 L82.94 530.18 L83.28 529.48 L83.62 528.79 L83.96 528.09 L84.3 527.41 L84.64 526.72 L84.98 526.05 L85.33 525.37 L85.67 524.7 L86.01 524.04 L86.35 523.37 L86.69 522.71 L87.03 522.06 L87.37 521.41 L87.71 520.76 L88.05 520.12 L88.39 519.48 L88.73 518.85 L89.07 518.22 L89.41 517.59 L89.75 516.97 L90.09 516.35 L90.52 515.58 L90.95 514.81 L91.37 514.05 L91.8 513.3 L92.22 512.56 L92.65 511.81 L93.07 511.08 L93.5 510.35 L93.93 509.62 L94.35 508.9 L94.78 508.19 L95.2 507.48 L95.63 506.78 L96.05 506.08 L96.48 505.38 L96.91 504.7 L97.33 504.01 L97.76 503.33 L98.18 502.66 L98.61 501.99 L99.04 501.33 L99.46 500.67 L99.89 500.01 L100.31 499.37 L100.74 498.72 L101.16 498.08 L101.59 497.45 L102.02 496.82 L102.44 496.19 L102.87 495.57 L103.29 494.95 L103.72 494.34 L104.14 493.73 L104.57 493.13 L105 492.53 L105.42 491.94 L105.85 491.35 L106.27 490.76 L106.7 490.18 L107.12 489.6 L107.55 489.03 L107.98 488.46 L108.49 487.79 L109 487.12 L109.51 486.45 L110.02 485.79 L110.53 485.14 L111.04 484.49 L111.55 483.85 L112.06 483.22 L112.57 482.59 L113.09 481.97 L113.6 481.35 L114.11 480.74 L114.62 480.13 L115.13 479.53 L115.64 478.94 L116.15 478.35 L116.66 477.76 L117.17 477.19 L117.68 476.61 L118.19 476.05 L118.71 475.48 L119.22 474.93 L119.73 474.38 L120.24 473.83 L120.75 473.29 L121.26 472.76 L121.77 472.23 L122.28 471.71 L122.79 471.19 L123.3 470.67 L123.81 470.17 L124.33 469.66 L124.84 469.17 L125.35 468.68 L125.94 468.11 L126.54 467.55 L127.14 467 L127.73 466.45 L128.33 465.91 L128.92 465.38 L129.52 464.85 L130.12 464.34 L130.71 463.83 L131.31 463.32 L131.9 462.83 L132.5 462.34 L133.1 461.85 L133.69 461.38 L134.29 460.91 L134.88 460.45 L135.48 459.99 L136.08 459.54 L136.67 459.1 L137.27 458.67 L137.86 458.24 L138.46 457.82 L139.06 457.41 L139.65 457 L140.25 456.6 L140.84 456.21 L141.44 455.82 L142.12 455.39 L142.8 454.97 L143.48 454.55 L144.17 454.15 L144.85 453.75 L145.53 453.36 L146.21 452.98 L146.89 452.61 L147.57 452.25 L148.25 451.9 L148.93 451.55 L149.62 451.22 L150.3 450.89 L150.98 450.58 L151.66 450.27 L152.34 449.97 L153.02 449.68 L153.7 449.39 L154.38 449.12 L155.07 448.85 L155.75 448.6 L156.43 448.35 L157.11 448.11 L157.79 447.88 L158.47 447.66 L159.15 447.45 L159.83 447.24 L160.51 447.04 L161.28 446.83 L162.05 446.63 L162.81 446.44 L163.58 446.27 L164.35 446.1 L165.11 445.94 L165.88 445.79 L166.65 445.66 L167.41 445.53 L168.18 445.41 L168.94 445.31 L169.71 445.21 L170.48 445.12 L171.24 445.05 L172.01 444.98 L172.78 444.93 L173.54 444.88 L174.31 444.85 L175.08 444.82 L175.84 444.8 L176.61 444.8 L177.37 444.8 L178.14 444.81 L178.91 444.83 L179.67 444.86 L180.44 444.9 L181.21 444.95 L181.97 445.01 L182.74 445.08 L183.51 445.15 L184.27 445.24 L185.04 445.33 L185.8 445.43 L186.57 445.54 L187.34 445.66 L188.1 445.79 L188.87 445.92 L189.64 446.06 L190.4 446.22 L191.17 446.37 L191.94 446.54 L192.7 446.72 L193.47 446.9 L194.23 447.09 L195 447.28 L195.77 447.49 L196.53 447.7 L197.22 447.89 L197.9 448.09 L198.58 448.3 L199.26 448.51 L199.94 448.72 L200.62 448.94 L201.3 449.17 L201.98 449.4 L202.67 449.64 L203.35 449.88 L204.03 450.12 L204.71 450.37 L205.39 450.63 L206.07 450.88 L206.75 451.15 L207.43 451.42 L208.11 451.69 L208.8 451.96 L209.48 452.25 L210.16 452.53 L210.84 452.82 L211.52 453.11 L212.2 453.41 L212.88 453.71 L213.56 454.01 L214.25 454.32 L214.93 454.63 L215.61 454.94 L216.29 455.26 L216.97 455.58 L217.65 455.91 L218.33 456.24 L219.01 456.57 L219.7 456.9 L220.38 457.24 L221.06 457.57 L221.74 457.92 L222.42 458.26 L223.1 458.61 L223.78 458.96 L224.46 459.31 L225.15 459.66 L225.83 460.02 L226.51 460.38 L227.19 460.74 L227.87 461.1 L228.55 461.47 L229.23 461.84 L229.91 462.21 L230.59 462.58 L231.28 462.95 L231.96 463.32 L232.64 463.7 L233.32 464.08 L234 464.45 L234.68 464.83 L235.36 465.22 L236.04 465.6 L236.73 465.98 L237.41 466.37 L238.09 466.75 L238.77 467.14 L239.45 467.53 L240.13 467.92 L240.81 468.31 L241.49 468.7 L242.18 469.09 L242.86 469.48 L243.54 469.87 L244.22 470.27 L244.9 470.66 L245.58 471.05 L246.26 471.45 L246.94 471.84 L247.63 472.24 L248.31 472.63 L248.99 473.03 L249.67 473.42 L250.35 473.82 L251.03 474.21 L251.71 474.61 L252.39 475 L253.08 475.4 L253.76 475.79 L254.44 476.19 L255.12 476.58 L255.8 476.98 L256.48 477.37 L257.16 477.76 L257.84 478.16 L258.52 478.55 L259.21 478.94 L259.89 479.33 L260.57 479.72 L261.25 480.11 L261.93 480.5 L262.61 480.89 L263.29 481.28 L263.97 481.66 L264.66 482.05 L265.34 482.44 L266.02 482.82 L266.7 483.2 L267.38 483.59 L268.06 483.97 L268.74 484.35 L269.42 484.73 L270.11 485.11 L270.79 485.48 L271.47 485.86 L272.15 486.24 L272.83 486.61 L273.51 486.98 L274.19 487.35 L274.87 487.72 L275.56 488.09 L276.24 488.46 L276.92 488.83 L277.6 489.19 L278.28 489.56 L278.96 489.92 L279.64 490.28 L280.32 490.64 L281 491 L281.69 491.35 L282.37 491.71 L283.05 492.06 L283.73 492.41 L284.41 492.77 L285.09 493.11 L285.77 493.46 L286.45 493.81 L287.14 494.15 L287.82 494.49 L288.5 494.84 L289.18 495.18 L289.86 495.51 L290.54 495.85 L291.22 496.18 L291.9 496.52 L292.59 496.85 L293.27 497.18 L293.95 497.51 L294.63 497.83 L295.31 498.16 L295.99 498.48 L296.67 498.8 L297.35 499.12 L298.04 499.44 L298.72 499.75 L299.4 500.06 L300.08 500.38 L300.76 500.69 L301.44 501 L302.12 501.3 L302.8 501.61 L303.48 501.91 L304.17 502.21 L304.85 502.51 L305.53 502.81 L306.21 503.1 L306.89 503.4 L307.57 503.69 L308.25 503.98 L308.93 504.27 L309.62 504.56 L310.3 504.84 L310.98 505.13 L311.66 505.41 L312.34 505.69 L313.02 505.96 L313.7 506.24 L314.38 506.52 L315.07 506.79 L315.75 507.06 L316.43 507.33 L317.11 507.59 L317.79 507.86 L318.47 508.12 L319.15 508.38 L319.83 508.64 L320.52 508.9 L321.2 509.16 L321.88 509.41 L322.56 509.67 L323.24 509.92 L323.92 510.17 L324.6 510.41 L325.28 510.66 L325.97 510.9 L326.65 511.14 L327.33 511.38 L328.01 511.62 L328.69 511.86 L329.37 512.1 L330.05 512.33 L330.73 512.56 L331.41 512.79 L331.5 512.82" stroke="#ec2d33"/>
<path d="M76.13 538.2 L76.9 538.2 L77.66 538.2 L78.43 538.2 L79.19 538.2 L79.96 538.2 L80.73 538.2 L81.49 538.2 L82.26 538.2 L83.03 538.2 L83.79 538.2 L84.56 538.2 L85.33 538.2 L86.09 538.2 L86.86 538.2 L87.62 538.2 L88.39 538.2 L89.16 538.2 L89.92 538.2 L90.69 538.2 L91.46 538.2 L92.22 538.2 L92.99 538.2 L93.76 538.2 L94.52 538.05 L95.2 537.63 L95.88 537.22 L96.57 536.82 L97.25 536.42 L97.93 536.02 L98.61 535.63 L99.29 535.24 L99.97 534.86 L100.65 534.49 L101.33 534.11 L102.02 533.75 L102.7 533.38 L103.38 533.03 L104.06 532.67 L104.74 532.32 L105.42 531.98 L106.1 531.64 L106.78 531.3 L107.47 530.97 L108.15 530.65 L108.83 530.32 L109.51 530.01 L110.19 529.69 L110.87 529.38 L111.55 529.08 L112.23 528.78 L112.91 528.48 L113.6 528.19 L114.28 527.9 L114.96 527.62 L115.64 527.34 L116.32 527.06 L117 526.79 L117.68 526.52 L118.36 526.26 L119.05 526 L119.73 525.74 L120.41 525.49 L121.09 525.24 L121.77 525 L122.45 524.76 L123.13 524.52 L123.81 524.29 L124.5 524.06 L125.18 523.83 L125.86 523.61 L126.54 523.39 L127.22 523.18 L127.9 522.97 L128.58 522.76 L129.26 522.56 L129.95 522.35 L130.63 522.16 L131.31 521.96 L131.99 521.77 L132.76 521.56 L133.52 521.36 L134.29 521.15 L135.05 520.95 L135.82 520.76 L136.59 520.57 L137.35 520.38 L138.12 520.2 L138.89 520.02 L139.65 519.85 L140.42 519.68 L141.19 519.51 L141.95 519.35 L142.72 519.19 L143.48 519.04 L144.25 518.88 L145.02 518.74 L145.78 518.59 L146.55 518.45 L147.32 518.32 L148.08 518.18 L148.85 518.05 L149.62 517.93 L150.38 517.8 L151.15 517.68 L151.91 517.57 L152.68 517.45 L153.45 517.34 L154.21 517.24 L154.98 517.13 L155.75 517.03 L156.51 516.94 L157.28 516.85 L158.05 516.76 L158.81 516.67 L159.58 516.58 L160.34 516.5 L161.11 516.43 L161.88 516.35 L162.64 516.28 L163.41 516.21 L164.18 516.15 L164.94 516.08 L165.71 516.02 L166.48 515.97 L167.24 515.91 L168.01 515.86 L168.77 515.81 L169.54 515.77 L170.31 515.72 L171.07 515.68 L171.84 515.65 L172.61 515.61 L173.37 515.58 L174.14 515.55 L174.91 515.53 L175.67 515.5 L176.44 515.48 L177.2 515.46 L177.97 515.44 L178.74 515.43 L179.5 515.42 L180.27 515.41 L181.04 515.4 L181.8 515.4 L182.57 515.4 L183.34 515.4 L184.1 515.4 L184.87 515.41 L185.63 515.41 L186.4 515.42 L187.17 515.44 L187.93 515.45 L188.7 515.47 L189.47 515.49 L190.23 515.51 L191 515.53 L191.77 515.55 L192.53 515.58 L193.3 515.61 L194.06 515.64 L194.83 515.67 L195.6 515.71 L196.36 515.75 L197.13 515.79 L197.9 515.83 L198.66 515.87 L199.43 515.91 L200.2 515.96 L200.96 516.01 L201.73 516.06 L202.49 516.11 L203.26 516.16 L204.03 516.22 L204.79 516.27 L205.56 516.33 L206.33 516.39 L207.09 516.45 L207.86 516.52 L208.63 516.58 L209.39 516.65 L210.16 516.71 L210.92 516.78 L211.69 516.85 L212.46 516.92 L213.22 517 L213.99 517.07 L214.76 517.15 L215.52 517.22 L216.29 517.3 L217.06 517.38 L217.82 517.46 L218.59 517.55 L219.35 517.63 L220.12 517.71 L220.89 517.8 L221.65 517.89 L222.42 517.97 L223.19 518.06 L223.95 518.15 L224.72 518.24 L225.49 518.33 L226.25 518.43 L227.02 518.52 L227.78 518.61 L228.55 518.71 L229.32 518.8 L230.08 518.9 L230.85 519 L231.62 519.1 L232.38 519.2 L233.15 519.3 L233.92 519.4 L234.68 519.5 L235.45 519.6 L236.21 519.7 L236.98 519.81 L237.75 519.91 L238.51 520.01 L239.28 520.12 L240.05 520.22 L240.81 520.33 L241.58 520.44 L242.35 520.54 L243.11 520.65 L243.88 520.76 L244.64 520.87 L245.41 520.97 L246.18 521.08 L246.94 521.19 L247.71 521.3 L248.48 521.41 L249.24 521.52 L250.01 521.63 L250.78 521.74 L251.54 521.85 L252.31 521.96 L253.08 522.07 L253.84 522.18 L254.61 522.29 L255.37 522.4 L256.14 522.51 L256.91 522.62 L257.67 522.73 L258.44 522.84 L259.21 522.95 L259.97 523.06 L260.74 523.17 L261.51 523.29 L262.27 523.4 L263.04 523.51 L263.8 523.62 L264.57 523.73 L265.34 523.83 L266.1 523.94 L266.87 524.05 L267.64 524.16 L268.4 524.27 L269.17 524.38 L269.94 524.49 L270.7 524.6 L271.47 524.7 L272.23 524.81 L273 524.92 L273.77 525.02 L274.53 525.13 L275.3 525.24 L276.07 525.34 L276.83 525.45 L277.6 525.55 L278.37 525.66 L279.13 525.76 L279.9 525.86 L280.66 525.97 L281.43 526.07 L282.2 526.17 L282.96 526.27 L283.73 526.37 L284.5 526.47 L285.26 526.57 L286.03 526.67 L286.8 526.77 L287.56 526.87 L288.33 526.97 L289.09 527.06 L289.86 527.16 L290.63 527.25 L291.39 527.35 L292.16 527.44 L292.93 527.54 L293.69 527.63 L294.46 527.72 L295.23 527.81 L295.99 527.91 L296.76 528 L297.52 528.09 L298.29 528.17 L299.06 528.26 L299.82 528.35 L300.59 528.44 L301.36 528.52 L302.12 528.61 L302.89 528.69 L303.66 528.78 L304.42 528.86 L305.19 528.95 L305.95 529.03 L306.72 529.11 L307.49 529.19 L308.25 529.27 L309.02 529.35 L309.79 529.43 L310.55 529.5 L311.32 529.58 L312.09 529.66 L312.85 529.73 L313.62 529.81 L314.38 529.88 L315.15 529.95 L315.92 530.03 L316.68 530.1 L317.45 530.17 L318.22 530.24 L318.98 530.31 L319.75 530.38 L320.52 530.45 L321.28 530.51 L322.05 530.58 L322.81 530.65 L323.58 530.71 L324.35 530.77 L325.11 530.84 L325.88 530.9 L326.65 530.96 L327.41 531.02 L328.18 531.08 L328.95 531.14 L329.71 531.2 L330.48 531.26 L331.24 531.32 L331.5 531.34" stroke="#1f66dc"/>
<path d="M76.13 538.2 L76.9 538.2 L77.66 538.2 L78.43 538.2 L79.19 538.2 L79.96 538.2 L80.73 538.2 L81.49 538.2 L82.26 538.2 L83.03 538.2 L83.79 538.2 L84.56 538.2 L85.33 538.2 L86.09 538.2 L86.86 538.2 L87.62 538.2 L88.39 538.2 L89.16 538.2 L89.92 538.2 L90.69 538.2 L91.46 538.2 L92.22 538.2 L92.99 538.2 L93.76 538.2 L94.52 538.2 L95.29 538.2 L96.05 538.2 L96.82 538.2 L97.59 538.2 L98.35 538.2 L99.12 538.2 L99.8 537.83 L100.48 537.43 L101.16 537.03 L101.85 536.64 L102.53 536.25 L103.21 535.86 L103.89 535.48 L104.57 535.09 L105.25 534.72 L105.93 534.34 L106.61 533.97 L107.29 533.6 L107.98 533.23 L108.66 532.87 L109.34 532.51 L110.02 532.16 L110.7 531.81 L111.38 531.46 L112.06 531.11 L112.74 530.77 L113.43 530.44 L114.11 530.1 L114.79 529.77 L115.47 529.45 L116.15 529.13 L116.83 528.81 L117.51 528.49 L118.19 528.18 L118.88 527.87 L119.56 527.57 L120.24 527.27 L120.92 526.98 L121.6 526.68 L122.28 526.4 L122.96 526.11 L123.64 525.83 L124.33 525.56 L125.01 525.28 L125.69 525.01 L126.37 524.75 L127.05 524.49 L127.73 524.23 L128.41 523.98 L129.09 523.73 L129.77 523.48 L130.46 523.24 L131.14 523 L131.82 522.76 L132.5 522.53 L133.18 522.3 L133.86 522.08 L134.54 521.86 L135.22 521.64 L135.91 521.43 L136.59 521.22 L137.27 521.02 L137.95 520.81 L138.63 520.62 L139.31 520.42 L139.99 520.23 L140.76 520.02 L141.53 519.81 L142.29 519.61 L143.06 519.41 L143.82 519.22 L144.59 519.03 L145.36 518.84 L146.12 518.66 L146.89 518.49 L147.66 518.31 L148.42 518.15 L149.19 517.98 L149.96 517.82 L150.72 517.67 L151.49 517.52 L152.26 517.37 L153.02 517.23 L153.79 517.09 L154.55 516.95 L155.32 516.82 L156.09 516.69 L156.85 516.57 L157.62 516.45 L158.39 516.33 L159.15 516.22 L159.92 516.11 L160.69 516.01 L161.45 515.91 L162.22 515.81 L162.98 515.72 L163.75 515.63 L164.52 515.54 L165.28 515.46 L166.05 515.38 L166.82 515.31 L167.58 515.24 L168.35 515.17 L169.12 515.1 L169.88 515.04 L170.65 514.98 L171.41 514.93 L172.18 514.88 L172.95 514.83 L173.71 514.78 L174.48 514.74 L175.25 514.7 L176.01 514.67 L176.78 514.64 L177.55 514.61 L178.31 514.58 L179.08 514.56 L179.84 514.54 L180.61 514.52 L181.38 514.51 L182.14 514.5 L182.91 514.49 L183.68 514.48 L184.44 514.48 L185.21 514.48 L185.98 514.48 L186.74 514.49 L187.51 514.5 L188.27 514.51 L189.04 514.52 L189.81 514.54 L190.57 514.56 L191.34 514.58 L192.11 514.6 L192.87 514.63 L193.64 514.65 L194.41 514.68 L195.17 514.72 L195.94 514.75 L196.7 514.79 L197.47 514.83 L198.24 514.87 L199 514.92 L199.77 514.96 L200.54 515.01 L201.3 515.06 L202.07 515.11 L202.84 515.17 L203.6 515.22 L204.37 515.28 L205.13 515.34 L205.9 515.4 L206.67 515.47 L207.43 515.53 L208.2 515.6 L208.97 515.67 L209.73 515.74 L210.5 515.81 L211.27 515.88 L212.03 515.96 L212.8 516.04 L213.56 516.11 L214.33 516.19 L215.1 516.28 L215.86 516.36 L216.63 516.44 L217.4 516.53 L218.16 516.61 L218.93 516.7 L219.7 516.79 L220.46 516.88 L221.23 516.97 L221.99 517.07 L222.76 517.16 L223.53 517.25 L224.29 517.35 L225.06 517.45 L225.83 517.54 L226.59 517.64 L227.36 517.74 L228.13 517.84 L228.89 517.94 L229.66 518.05 L230.42 518.15 L231.19 518.25 L231.96 518.36 L232.72 518.46 L233.49 518.57 L234.26 518.67 L235.02 518.78 L235.79 518.89 L236.56 519 L237.32 519.11 L238.09 519.21 L238.85 519.32 L239.62 519.43 L240.39 519.54 L241.15 519.66 L241.92 519.77 L242.69 519.88 L243.45 519.99 L244.22 520.1 L244.99 520.21 L245.75 520.33 L246.52 520.44 L247.28 520.55 L248.05 520.67 L248.82 520.78 L249.58 520.89 L250.35 521.01 L251.12 521.12 L251.88 521.23 L252.65 521.35 L253.42 521.46 L254.18 521.57 L254.95 521.69 L255.71 521.8 L256.48 521.92 L257.25 522.03 L258.01 522.14 L258.78 522.26 L259.55 522.37 L260.31 522.48 L261.08 522.59 L261.85 522.71 L262.61 522.82 L263.38 522.93 L264.14 523.04 L264.91 523.16 L265.68 523.27 L266.44 523.38 L267.21 523.49 L267.98 523.6 L268.74 523.71 L269.51 523.82 L270.28 523.93 L271.04 524.04 L271.81 524.15 L272.57 524.25 L273.34 524.36 L274.11 524.47 L274.87 524.58 L275.64 524.68 L276.41 524.79 L277.17 524.9 L277.94 525 L278.71 525.11 L279.47 525.21 L280.24 525.31 L281 525.42 L281.77 525.52 L282.54 525.62 L283.3 525.72 L284.07 525.82 L284.84 525.93 L285.6 526.03 L286.37 526.12 L287.14 526.22 L287.9 526.32 L288.67 526.42 L289.43 526.52 L290.2 526.61 L290.97 526.71 L291.73 526.81 L292.5 526.9 L293.27 527 L294.03 527.09 L294.8 527.18 L295.57 527.27 L296.33 527.37 L297.1 527.46 L297.86 527.55 L298.63 527.64 L299.4 527.73 L300.16 527.82 L300.93 527.91 L301.7 527.99 L302.46 528.08 L303.23 528.17 L304 528.25 L304.76 528.34 L305.53 528.42 L306.3 528.5 L307.06 528.59 L307.83 528.67 L308.59 528.75 L309.36 528.83 L310.13 528.91 L310.89 528.99 L311.66 529.07 L312.43 529.15 L313.19 529.23 L313.96 529.31 L314.73 529.39 L315.49 529.46 L316.26 529.54 L317.02 529.61 L317.79 529.69 L318.56 529.76 L319.32 529.83 L320.09 529.91 L320.86 529.98 L321.62 530.05 L322.39 530.12 L323.16 530.19 L323.92 530.26 L324.69 530.33 L325.45 530.4 L326.22 530.46 L326.99 530.53 L327.75 530.6 L328.52 530.66 L329.29 530.73 L330.05 530.79 L330.82 530.86 L331.5 530.91" stroke="#2ea356"/>
</g>
</svg></body></html>
